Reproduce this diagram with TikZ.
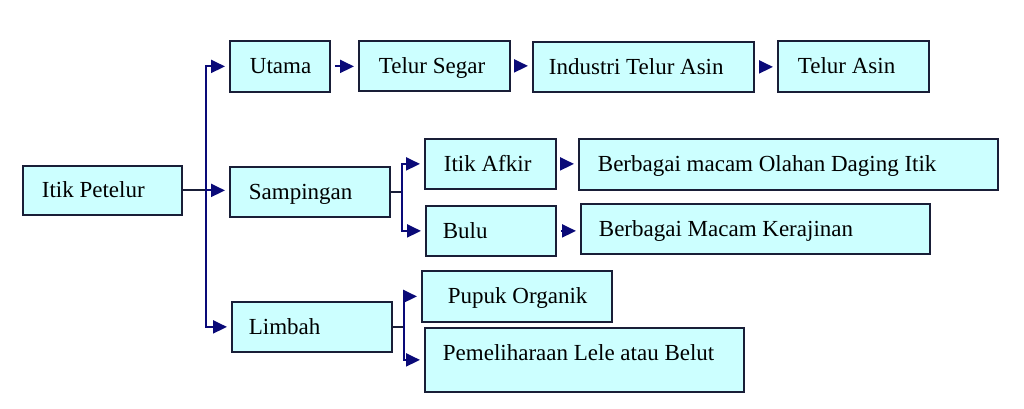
\documentclass[tikz,border=0pt]{standalone}
\usepackage{fontspec}
\setmainfont{Liberation Serif}
\usetikzlibrary{arrows.meta}
\definecolor{boxfill}{RGB}{204,255,255}
\definecolor{boxline}{RGB}{25,30,55}
\definecolor{navy}{RGB}{10,10,120}
\tikzset{
  box/.style={draw=boxline, line width=1.8pt, fill=boxfill, align=left,
    inner ysep=0pt, text height=16pt, text depth=1pt,
    font=\fontsize{23}{27}\selectfont},
  conn/.style={draw=boxline, line width=2pt},
  arr/.style={conn, -{Triangle[length=14pt,width=13pt]}, color=navy, draw=navy, shorten >=4pt},
}
\newcommand\mybox[8][]{%
  \node[box, anchor=north west, minimum width={(#5-#3)*1pt}, minimum height={(#6-#4)*1pt},
    inner xsep={#7*1pt}, #1] (#2) at (#3,#4)
    {\makebox[\dimexpr #5pt-#3pt-#7pt-#7pt\relax][l]{#8}};}
\begin{document}
\begin{tikzpicture}[x=1pt,y=-1pt]
\useasboundingbox (0,0) rectangle (1024,409);
\mybox{petelur}{22}{165}{181}{214}{19}{Itik Petelur}
\mybox{utama}{229}{40}{329}{91}{20}{Utama}
\mybox{segar}{358}{40}{509}{90}{20}{Telur Segar}
\mybox{industri}{532}{41}{753}{91}{16}{Industri Telur Asin}
\mybox{asin}{777}{40}{928}{91}{20}{Telur Asin}
\mybox{samp}{229}{166}{389}{216}{19}{Sampingan}
\mybox{afkir}{424}{138}{555}{188}{19}{Itik Afkir}
\mybox{olahan}{578}{138}{997}{189}{19}{Berbagai macam Olahan Daging Itik}
\mybox{bulu}{425}{205}{555}{255}{17}{Bulu}
\mybox{kerajinan}{580}{203}{929}{253}{18}{Berbagai Macam Kerajinan}
\mybox{limbah}{231}{301}{391}{351}{17}{Limbah}
\mybox{pupuk}{421}{270}{611}{321}{26}{Pupuk Organik}
\mybox[text depth=15pt]{pemel}{424}{327}{743}{391}{18}{Pemeliharaan Lele atau Belut}
% main trunk
\draw[conn] (petelur.east) -- ++(23,0) coordinate (j1);
\draw[arr] (j1) |- (utama.west);
\draw[arr] (j1) -- (j1 -| samp.west);
\draw[arr] (j1) |- (limbah.west);
% top chain
\draw[arr, shorten <=4pt] (utama.east) -- (utama.east -| segar.west);
\draw[arr, shorten <=4pt] (segar.east) -- (segar.east -| industri.west);
\draw[arr, shorten <=4pt] (industri.east) -- (industri.east -| asin.west);
% sampingan
\draw[conn] (samp.east) -- ++(11,0) coordinate (j2);
\draw[arr] (j2) |- (afkir.west);
\draw[arr] (j2) |- (bulu.west);
\draw[arr, shorten <=4pt] (afkir.east) -- (afkir.east -| olahan.west);
\draw[arr, shorten <=4pt] (bulu.east) -- (bulu.east -| kerajinan.west);
% limbah
\draw[conn] (limbah.east) -- ++(11,0) coordinate (j3);
\draw[arr] (j3) |- (pupuk.west);
\draw[arr] (j3) |- (pemel.west);
\end{tikzpicture}
\end{document}
